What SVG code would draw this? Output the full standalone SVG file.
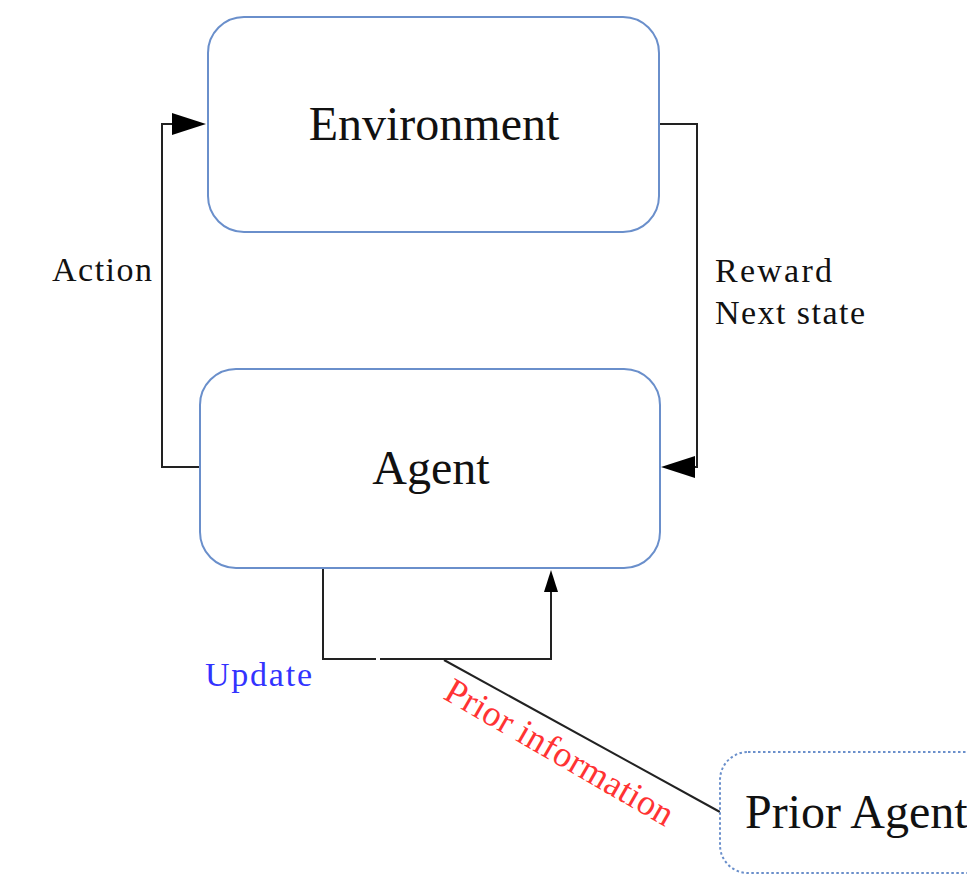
<svg xmlns="http://www.w3.org/2000/svg" width="967" height="876" viewBox="0 0 967 876">
  <style>
    .box { fill: #ffffff; stroke: #6a8fcb; stroke-width: 2; }
    .dotted { stroke-dasharray: 2.5 2.5; }
    .wire { fill: none; stroke: #222222; stroke-width: 2; }
    .head { fill: #000000; }
    .big { font-family: "Liberation Serif", "Times New Roman", serif; font-size: 48px; fill: #111111; }
    .label { font-family: "Liberation Serif", "Times New Roman", serif; font-size: 34px; fill: #111111; }
  </style>
  <rect width="967" height="876" fill="#ffffff"/>

  <g id="connectors">
    <!-- Action: agent left side up to environment -->
    <path class="wire" d="M200,467 H162 V124 H174"/>
    <polygon class="head" points="206,124 172,113 172,135"/>
    <!-- Reward / Next state: environment right side down to agent -->
    <path class="wire" d="M659,124 H697 V467 H692"/>
    <polygon class="head" points="661,467 695,456 695,478"/>
    <!-- Update loop under the agent -->
    <path class="wire" d="M323,568 V659 H376 M380,659 H551 V590"/>
    <polygon class="head" points="551,570 544,592 558,592"/>
    <!-- Prior information link -->
    <path class="wire" d="M444,660 L720,812"/>
  </g>

  <g id="environment">
    <rect class="box" x="208" y="17" width="451" height="215" rx="36" ry="36"/>
    <text class="big" x="434" y="140" text-anchor="middle">Environment</text>
  </g>

  <g id="agent">
    <rect class="box" x="200" y="369" width="460" height="199" rx="36" ry="36"/>
    <text class="big" x="431" y="484" text-anchor="middle">Agent</text>
  </g>

  <g id="prior-agent">
    <rect class="box dotted" x="720" y="752" width="290" height="121" rx="28" ry="28"/>
    <text class="big" x="745" y="828">Prior Agent</text>
  </g>

  <g id="labels">
    <text class="label" x="52" y="281" textLength="100" lengthAdjust="spacing">Action</text>
    <text class="label" x="715" y="282" textLength="117" lengthAdjust="spacing">Reward</text>
    <text class="label" x="715" y="324" textLength="150" lengthAdjust="spacing">Next state</text>
    <text class="label" x="205" y="686" textLength="107" lengthAdjust="spacing" style="fill:#3333ff">Update</text>
    <text class="label" x="442" y="698" textLength="258" lengthAdjust="spacing" style="fill:#ff3333;font-size:36px" transform="rotate(30 442 698)">Prior information</text>
  </g>
</svg>
